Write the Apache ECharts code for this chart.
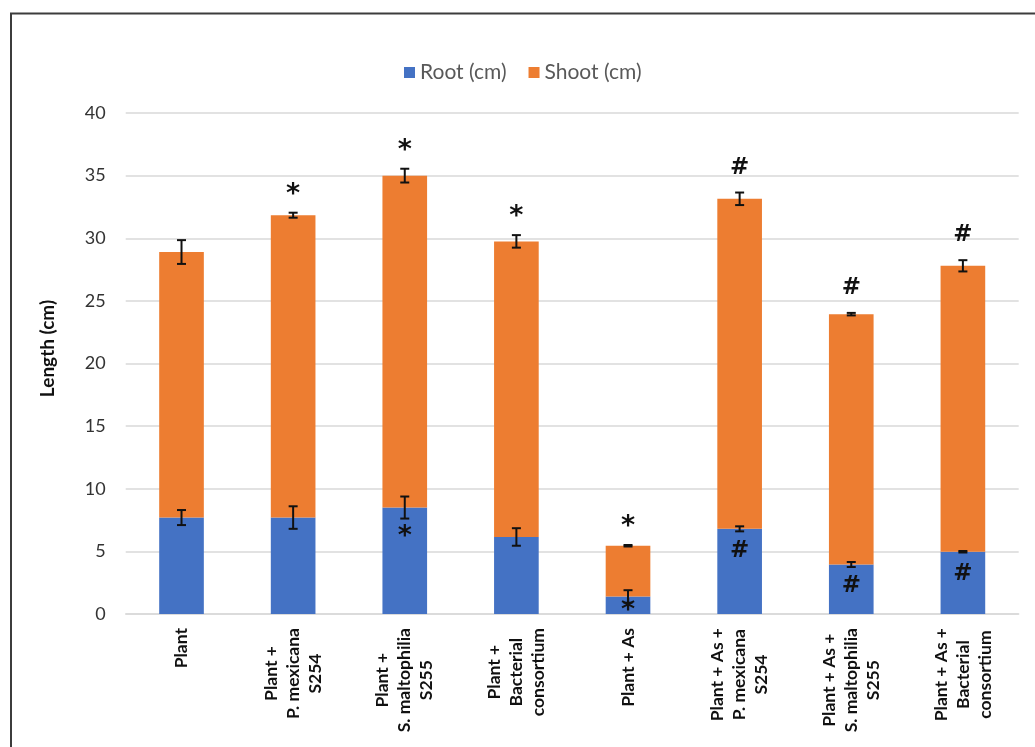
<!DOCTYPE html>
<html>
<head>
<meta charset="utf-8">
<script src="https://cdn.jsdelivr.net/npm/echarts@6/dist/echarts.min.js"></script>
<style>
  html, body { margin: 0; padding: 0; background: #fff; }
  #chart { width: 1035px; height: 747px; }
</style>
</head>
<body>
<div id="chart"></div>
<script>
// 数据
const categories = [
  'Plant',
  'Plant +\nP. mexicana\nS254',
  'Plant +\nS. maltophilia\nS255',
  'Plant +\nBacterial\nconsortium',
  'Plant + As',
  'Plant + As +\nP. mexicana\nS254',
  'Plant + As +\nS. maltophilia\nS255',
  'Plant + As +\nBacterial\nconsortium'
];
const rootVals  = [7.7, 7.7, 8.5, 6.15, 1.4, 6.8, 3.95, 4.97];
const shootVals = [21.2, 24.14, 26.5, 23.6, 4.05, 26.35, 19.99, 22.83];
const rootErr   = [0.6, 0.9, 0.88, 0.7, 0.5, 0.2, 0.2, 0.06];
const totalErr  = [0.95, 0.2, 0.55, 0.5, 0.06, 0.5, 0.1, 0.45];
const topMarks  = ['', '*', '*', '*', '*', '#', '#', '#'];
const rootMarks = ['', '', '*', '', '*', '#', '#', '#'];

const FONT = 'Lato, "Open Sans", sans-serif';
const MARK_FONT = '"DejaVu Sans", sans-serif';

const errData = categories.map((c, i) => [i, rootVals[i], rootVals[i] + shootVals[i], rootErr[i], totalErr[i]]);

// error bars + significance marks
function renderErr(params, api) {
  const i = api.value(0);
  const r = api.value(1), t = api.value(2), re = api.value(3), te = api.value(4);
  const cap = 4.5;
  const kids = [];
  const bar = (v, e) => {
    const a = api.coord([i, v + e]), b = api.coord([i, v - e]);
    const x = a[0];
    const ls = { stroke: '#111', lineWidth: 2 };
    kids.push({ type: 'line', shape: { x1: x, y1: a[1], x2: x, y2: b[1] }, style: ls });
    kids.push({ type: 'line', shape: { x1: x - cap, y1: a[1], x2: x + cap, y2: a[1] }, style: ls });
    kids.push({ type: 'line', shape: { x1: x - cap, y1: b[1], x2: x + cap, y2: b[1] }, style: ls });
    return a;
  };
  bar(r, re);
  const top = bar(t, te);
  const rootTop = api.coord([i, r]);
  const base = api.coord([i, 0]);
  const mark = (txt, x, y) => {
    if (!txt) return;
    const isStar = txt === '*';
    kids.push({
      type: 'text',
      style: {
        text: txt, x: x, y: isStar ? y + 7 : y,
        fill: '#111', align: 'center', verticalAlign: 'middle',
        font: 'bold ' + (isStar ? 27 : 23) + 'px ' + MARK_FONT
      }
    });
  };
  mark(topMarks[i], top[0], top[1] - 25);
  mark(rootMarks[i], rootTop[0], Math.min(rootTop[1] + 22, base[1] - 10));
  return { type: 'group', children: kids };
}

const chart = echarts.init(document.getElementById('chart'), null, { renderer: 'canvas' });
chart.setOption({
  backgroundColor: '#fff',
  animation: false,
  graphic: [{
    type: 'rect', shape: { x: 11, y: 13.5, width: 1100, height: 900 },
    style: { fill: 'none', stroke: '#3c3c3c', lineWidth: 2 }, z: 100
  }],
  legend: {
    data: ['Root (cm)', 'Shoot (cm)'],
    left: 399, top: 57,
    itemWidth: 11, itemHeight: 11, itemGap: 22,
    icon: 'rect',
    textStyle: { color: '#595959', fontSize: 21, fontFamily: FONT }
  },
  grid: { left: 125.7, right: 16.3, top: 113, bottom: 133 },
  xAxis: {
    type: 'category', data: categories,
    axisLine: { lineStyle: { color: '#d9d9d9', width: 1.5 } },
    axisTick: { show: false },
    axisLabel: {
      rotate: 90, interval: 0, margin: 14,
      formatter: v => v.split('\n').map(l => '{c|' + l + '}').join('\n'),
      rich: { c: { align: 'center', fontFamily: FONT, fontWeight: 'bold', fontSize: 17.5, lineHeight: 22, color: '#111' } }
    }
  },
  yAxis: {
    type: 'value', min: 0, max: 40, interval: 5,
    name: 'Length (cm)', nameLocation: 'middle', nameGap: 68,
    nameTextStyle: { fontFamily: FONT, fontWeight: 'bold', fontSize: 19, color: '#111', padding: [0, 0, 0, 30] },
    axisLine: { show: false }, axisTick: { show: false },
    axisLabel: { color: '#333', fontSize: 18, fontFamily: FONT, margin: 20 },
    splitLine: { lineStyle: { color: '#d9d9d9', width: 1.5 } }
  },
  series: [
    { name: 'Root (cm)', type: 'bar', stack: 'len', data: rootVals, barWidth: '40%', itemStyle: { color: '#4472C4' } },
    { name: 'Shoot (cm)', type: 'bar', stack: 'len', data: shootVals, itemStyle: { color: '#ED7D31' } },
    { type: 'custom', data: errData, renderItem: renderErr, z: 10, silent: true,
      encode: { x: 0, y: [1, 2] } }
  ]
});
</script>
</body>
</html>
